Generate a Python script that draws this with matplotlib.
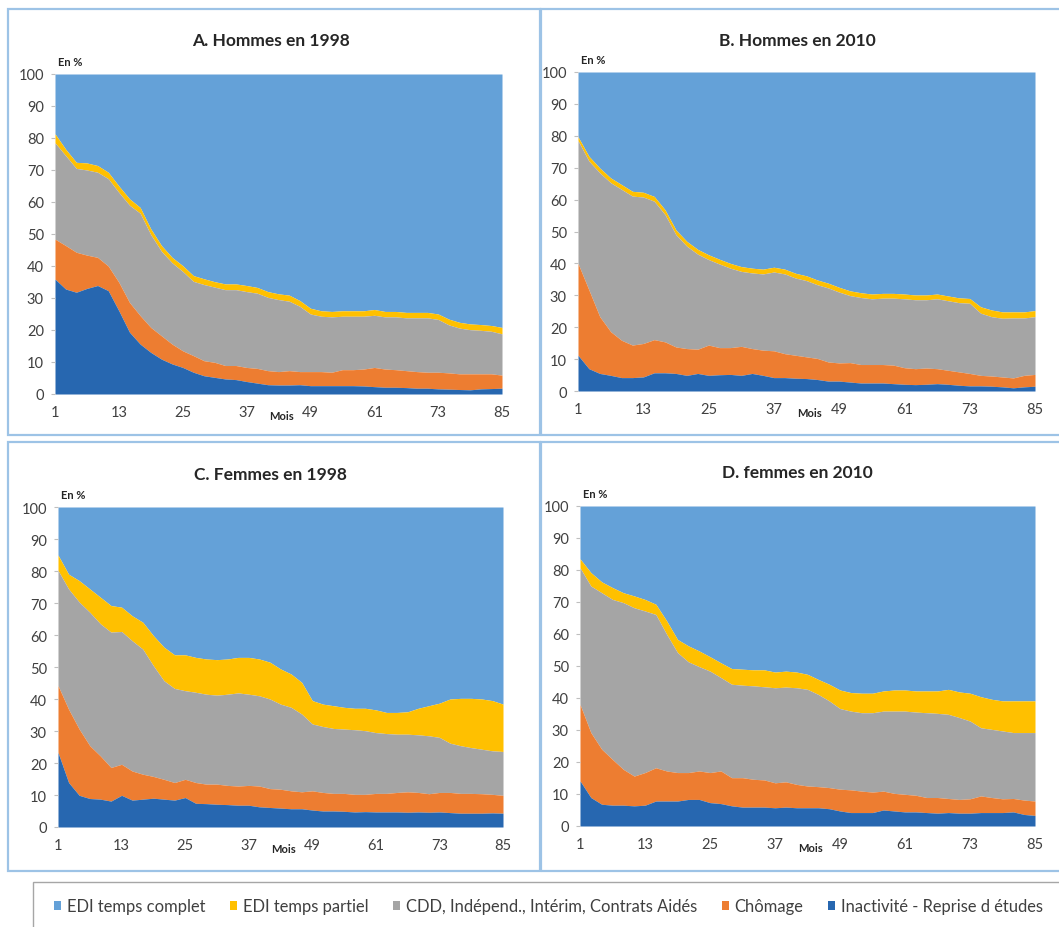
import matplotlib.pyplot as plt
from matplotlib.patches import Rectangle, Patch

plt.rcParams['font.family'] = ['Lato', 'DejaVu Sans']

# mois observés (un point tous les deux mois)
mois = list(range(1, 86, 2))

# Bords supérieurs cumulés (en %) de chaque couche
# A. Hommes en 1998
a_inact = [35.9, 32.8, 31.8, 33.0, 33.9, 32.3, 26.0, 19.3, 15.6, 13.0, 10.9, 9.4, 8.3, 6.8, 5.7,
           5.2, 4.7, 4.5, 3.9, 3.4, 2.9, 2.8, 2.8, 2.9, 2.6, 2.6, 2.6, 2.6, 2.6, 2.5, 2.3, 2.1,
           2.1, 2.0, 1.8, 1.8, 1.6, 1.5, 1.4, 1.3, 1.6, 1.7, 1.8]
a_chom = [48.4, 46.4, 44.3, 43.4, 42.7, 40.0, 34.9, 28.6, 24.5, 20.8, 18.2, 15.6, 13.5, 12.0, 10.4,
          9.9, 8.9, 8.9, 8.3, 8.0, 7.3, 7.0, 7.3, 7.0, 7.0, 7.0, 6.8, 7.6, 7.6, 7.8, 8.3, 7.8,
          7.6, 7.3, 7.0, 6.8, 6.8, 6.6, 6.3, 6.3, 6.3, 6.3, 5.9]
a_cdd = [78.5, 74.5, 70.5, 70.0, 69.3, 67.3, 63.0, 59.0, 56.5, 49.8, 44.6, 41.0, 38.3, 35.2, 34.2,
         33.4, 32.6, 32.6, 32.0, 31.5, 30.2, 29.5, 29.0, 27.4, 25.0, 24.3, 24.1, 24.3, 24.3, 24.3,
         24.6, 24.1, 24.1, 23.8, 23.8, 23.8, 23.3, 21.6, 20.6, 20.1, 19.9, 19.6, 18.8]
a_partiel = [81.3, 76.5, 72.4, 72.2, 71.4, 69.3, 65.0, 61.0, 58.3, 51.6, 46.4, 42.7, 40.1, 37.0, 36.0,
             35.1, 34.4, 34.4, 33.9, 33.3, 32.0, 31.3, 30.9, 29.2, 26.8, 26.0, 25.8, 26.0, 26.0, 26.0,
             26.4, 25.8, 25.8, 25.5, 25.5, 25.5, 25.0, 23.4, 22.4, 21.9, 21.7, 21.4, 20.8]

# B. Hommes en 2010
b_inact = [11.2, 7.0, 5.5, 4.9, 4.2, 4.2, 4.4, 5.7, 5.7, 5.5, 4.9, 5.5, 4.9, 5.1, 5.2, 4.9, 5.5,
           4.9, 4.2, 4.2, 4.0, 3.9, 3.6, 3.1, 3.1, 2.8, 2.5, 2.5, 2.5, 2.3, 2.1, 2.0, 2.1, 2.3,
           2.1, 1.8, 1.6, 1.6, 1.5, 1.3, 1.0, 1.3, 1.5]
b_chom = [40.0, 31.7, 23.3, 18.6, 15.9, 14.4, 14.9, 16.1, 15.4, 13.8, 13.3, 13.1, 14.4, 13.6, 13.6,
          14.0, 13.3, 12.8, 12.6, 11.7, 11.2, 10.7, 10.2, 9.1, 8.8, 8.9, 8.3, 8.3, 8.3, 8.1, 7.3,
          7.0, 7.2, 7.0, 6.5, 6.0, 5.5, 4.9, 4.7, 4.4, 4.1, 4.9, 5.2]
b_cdd = [78.5, 72.1, 68.4, 65.3, 63.2, 61.1, 60.8, 59.5, 55.3, 49.0, 45.4, 42.9, 41.2, 39.8, 38.5,
         37.5, 37.0, 36.7, 37.3, 36.7, 35.4, 34.6, 33.3, 32.3, 31.0, 29.9, 29.3, 28.9, 29.1, 29.1,
         28.9, 28.6, 28.6, 28.9, 28.3, 27.7, 27.5, 24.4, 23.3, 22.8, 22.9, 22.9, 23.3]
b_partiel = [79.7, 73.6, 69.9, 66.8, 64.7, 62.6, 62.3, 61.0, 56.8, 50.5, 46.9, 44.4, 42.7, 41.3, 40.0,
             39.0, 38.5, 38.2, 38.8, 38.2, 36.9, 36.1, 34.8, 33.8, 32.5, 31.4, 30.8, 30.4, 30.6, 30.6,
             30.4, 30.1, 30.1, 30.4, 29.8, 29.2, 29.0, 26.4, 25.4, 24.8, 24.8, 24.8, 25.2]

# C. Femmes en 1998
c_inact = [23.3, 13.9, 9.9, 8.9, 8.7, 8.1, 9.9, 8.4, 8.7, 9.0, 8.7, 8.4, 9.2, 7.4, 7.3, 7.1, 7.0,
           6.8, 6.8, 6.3, 6.1, 5.9, 5.7, 5.7, 5.3, 5.0, 5.0, 4.9, 4.7, 4.8, 4.7, 4.7, 4.7, 4.6,
           4.7, 4.6, 4.7, 4.5, 4.3, 4.3, 4.3, 4.4, 4.3]
c_chom = [44.2, 36.8, 30.6, 25.4, 22.2, 18.6, 19.6, 17.5, 16.5, 15.8, 14.9, 13.9, 14.9, 13.9, 13.4,
          13.4, 13.0, 12.8, 13.0, 12.8, 12.0, 11.8, 11.3, 11.0, 11.3, 10.8, 10.5, 10.5, 10.2, 10.2,
          10.5, 10.5, 10.8, 11.0, 10.8, 10.4, 10.8, 10.8, 10.5, 10.5, 10.4, 10.2, 9.9]
c_cdd = [80.2, 74.4, 70.3, 67.1, 63.5, 60.9, 61.1, 58.2, 55.6, 50.4, 45.7, 43.3, 42.6, 42.1, 41.5,
         41.2, 41.5, 41.9, 41.5, 41.0, 40.0, 38.4, 37.4, 35.3, 32.2, 31.4, 30.8, 30.6, 30.4, 30.1,
         29.5, 29.2, 29.0, 29.0, 28.8, 28.5, 28.0, 26.2, 25.4, 24.8, 24.3, 23.8, 23.6]
c_partiel = [85.0, 79.0, 77.0, 74.4, 71.8, 69.2, 68.7, 66.0, 64.0, 59.8, 56.2, 53.8, 53.8, 53.0, 52.5,
             52.3, 52.5, 53.0, 53.0, 52.5, 51.5, 49.4, 47.8, 45.2, 39.5, 38.4, 37.9, 37.4, 37.1, 37.1,
             36.6, 35.8, 35.8, 36.0, 37.1, 37.9, 38.7, 40.0, 40.2, 40.2, 40.0, 39.5, 38.4]

# D. femmes en 2010
d_inact = [14.1, 8.9, 6.8, 6.5, 6.5, 6.3, 6.5, 7.8, 7.8, 7.8, 8.3, 8.3, 7.3, 7.0, 6.3, 5.9, 5.9,
           5.9, 5.7, 5.9, 5.7, 5.7, 5.7, 5.4, 4.7, 4.2, 4.2, 4.2, 5.0, 4.7, 4.4, 4.4, 4.2, 4.0,
           4.2, 4.0, 4.0, 4.2, 4.2, 4.2, 4.4, 3.6, 3.3]
d_chom = [38.0, 29.2, 24.0, 20.8, 17.7, 15.6, 16.7, 18.2, 17.2, 16.7, 16.7, 17.2, 16.7, 17.2, 15.1,
          15.1, 14.6, 14.4, 13.5, 13.8, 13.0, 12.5, 12.3, 12.0, 11.5, 11.3, 10.9, 10.6, 10.9, 10.2,
          9.9, 9.6, 8.9, 8.9, 8.6, 8.3, 8.5, 9.4, 8.9, 8.5, 8.6, 8.1, 7.8]
d_cdd = [80.7, 75.0, 72.9, 70.8, 69.8, 68.2, 67.2, 66.1, 59.9, 54.2, 51.3, 49.8, 48.4, 46.4, 44.3,
         44.0, 43.8, 43.5, 43.2, 43.4, 43.2, 42.7, 41.1, 39.1, 36.7, 35.9, 35.4, 35.4, 35.9, 35.9,
         35.9, 35.6, 35.4, 35.2, 34.9, 33.9, 32.8, 30.7, 30.2, 29.7, 29.2, 29.2, 29.2]
d_partiel = [83.5, 79.2, 76.3, 74.5, 72.9, 71.9, 70.8, 69.3, 64.1, 58.3, 56.3, 54.7, 52.9, 51.0, 49.2,
             49.0, 48.8, 48.8, 48.1, 48.4, 48.1, 47.4, 45.8, 44.3, 42.5, 41.7, 41.5, 41.5, 42.2, 42.5,
             42.5, 42.2, 42.2, 42.2, 42.7, 41.9, 41.5, 40.4, 39.6, 39.1, 39.1, 39.1, 39.1]

categories = ['EDI temps complet', 'EDI temps partiel',
              'CDD, Indépend., Intérim, Contrats Aidés', 'Chômage',
              'Inactivité - Reprise d études']
couleurs = ['#64a1d8', '#ffc000', '#a5a5a5', '#ed7d31', '#2767b0']

x_ticks = [1, 13, 25, 37, 49, 61, 73, 85]
y_ticks = list(range(0, 101, 10))

W, H = 1059, 928


def fx(x):
    return x / W


def fy(y):
    return 1 - y / H


fig = plt.figure(figsize=(W / 100, H / 100), dpi=100)

# panneaux : titre, données, zone du graphique (px), cadre (px), centre du titre (px)
panneaux = [
    ('A. Hommes en 1998', a_inact, a_chom, a_cdd, a_partiel, (55, 75, 502, 395), (8, 10, 540, 436), (271, 41)),
    ('B. Hommes en 2010', b_inact, b_chom, b_cdd, b_partiel, (578, 73, 1035, 392), (541, 10, 1075, 436), (797, 41)),
    ('C. Femmes en 1998', c_inact, c_chom, c_cdd, c_partiel, (58, 508, 503, 828), (8, 443, 540, 872), (270, 475)),
    ('D. femmes en 2010', d_inact, d_chom, d_cdd, d_partiel, (580, 507, 1035, 827), (541, 443, 1075, 872), (797, 473)),
]

for titre, inact, chom, cdd, partiel, zone, cadre, pos_titre in panneaux:
    x0, y0, x1, y1 = cadre
    fig.patches.append(Rectangle((fx(x0), fy(y1)), fx(x1 - x0), (y1 - y0) / H,
                                 transform=fig.transFigure, fill=False,
                                 edgecolor='#9dc3e6', linewidth=1.6))

    l, t, r, b = zone
    ax = fig.add_axes([fx(l), fy(b), fx(r - l), (b - t) / H])
    ax.fill_between(mois, partiel, 100, color=couleurs[0], lw=0)
    ax.fill_between(mois, cdd, partiel, color=couleurs[1], lw=0)
    ax.fill_between(mois, chom, cdd, color=couleurs[2], lw=0)
    ax.fill_between(mois, inact, chom, color=couleurs[3], lw=0)
    ax.fill_between(mois, 0, inact, color=couleurs[4], lw=0)

    ax.set_xlim(1, 85)
    ax.set_ylim(0, 100)
    ax.set_xticks(x_ticks)
    ax.set_yticks(y_ticks)
    ax.tick_params(axis='x', length=0, pad=8, labelsize=10.5, labelcolor='#404040')
    ax.tick_params(axis='y', length=3, color='#bfbfbf', pad=5, labelsize=10.5, labelcolor='#404040')
    for s in ax.spines.values():
        s.set_visible(False)

    fig.text(fx(pos_titre[0]), fy(pos_titre[1]), titre, ha='center', va='center',
             fontsize=12.5, fontweight='bold', color='#262626')
    fig.text(fx(l + 3), fy(t - 12), 'En %', ha='left', va='center',
             fontsize=8, fontweight='bold', color='#262626')
    fig.text(fx(l + 0.507 * (r - l)), fy(b + 22), 'Mois', ha='center', va='center',
             fontsize=8, fontweight='bold', color='#262626')

# cadre de la légende
fig.patches.append(Rectangle((fx(33), fy(945)), fx(1075 - 33), 62 / H,
                             transform=fig.transFigure, fill=False,
                             edgecolor='#a6a6a6', linewidth=1))

poignees = [Patch(facecolor=c, edgecolor='none') for c in couleurs]
fig.legend(poignees, categories, loc='center left', bbox_to_anchor=(fx(54), fy(907)),
           ncol=5, frameon=False, fontsize=11.9, handlelength=0.42, handleheight=0.45,
           handletextpad=0.35, columnspacing=1.5, borderpad=0, borderaxespad=0,
           labelcolor='#404040')

fig.savefig('out.png', dpi=100)
